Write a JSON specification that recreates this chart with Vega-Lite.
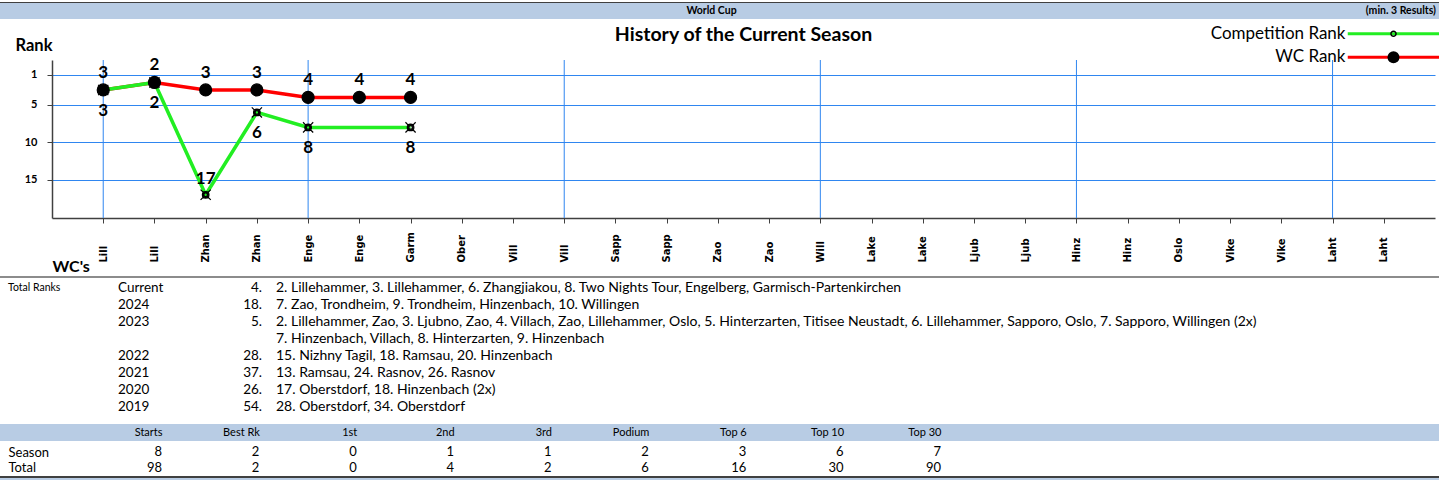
{
  "$schema": "https://vega.github.io/schema/vega-lite/v6.json",
  "background": "white",
  "padding": 0,
  "spacing": 0,
  "bounds": "flush",
  "resolve": {"scale": {"color": "independent", "shape": "independent"}, "legend": {"color": "independent", "shape": "independent"}},
  "config": {
    "view": {"stroke": null},
    "font": "Lato",
    "concat": {"spacing": 0},
    "text": {"font": "Lato", "color": "black"}
  },
  "datasets": {
    "events": [
      {"n": 1, "event": "01 Lill"}, {"n": 2, "event": "02 Lill"}, {"n": 3, "event": "03 Zhan"}, {"n": 4, "event": "04 Zhan"},
      {"n": 5, "event": "05 Enge"}, {"n": 6, "event": "06 Enge"}, {"n": 7, "event": "07 Garm"}, {"n": 8, "event": "08 Ober"},
      {"n": 9, "event": "09 Vill"}, {"n": 10, "event": "10 Vill"}, {"n": 11, "event": "11 Sapp"}, {"n": 12, "event": "12 Sapp"},
      {"n": 13, "event": "13 Zao"}, {"n": 14, "event": "14 Zao"}, {"n": 15, "event": "15 Will"}, {"n": 16, "event": "16 Lake"},
      {"n": 17, "event": "17 Lake"}, {"n": 18, "event": "18 Ljub"}, {"n": 19, "event": "19 Ljub"}, {"n": 20, "event": "20 Hinz"},
      {"n": 21, "event": "21 Hinz"}, {"n": 22, "event": "22 Oslo"}, {"n": 23, "event": "23 Vike"}, {"n": 24, "event": "24 Vike"},
      {"n": 25, "event": "25 Laht"}, {"n": 26, "event": "26 Laht"}
    ],
    "series": [
      {"event": "01 Lill", "series": "WC Rank", "rank": 3},
      {"event": "02 Lill", "series": "WC Rank", "rank": 2},
      {"event": "03 Zhan", "series": "WC Rank", "rank": 3},
      {"event": "04 Zhan", "series": "WC Rank", "rank": 3},
      {"event": "05 Enge", "series": "WC Rank", "rank": 4},
      {"event": "06 Enge", "series": "WC Rank", "rank": 4},
      {"event": "07 Garm", "series": "WC Rank", "rank": 4},
      {"event": "01 Lill", "series": "Competition Rank", "rank": 3},
      {"event": "02 Lill", "series": "Competition Rank", "rank": 2},
      {"event": "03 Zhan", "series": "Competition Rank", "rank": 17},
      {"event": "04 Zhan", "series": "Competition Rank", "rank": 6},
      {"event": "05 Enge", "series": "Competition Rank", "rank": 8},
      {"event": "07 Garm", "series": "Competition Rank", "rank": 8}
    ],
    "ranks": [
      {"row": 1, "section": "Total Ranks", "season": "Current", "total": "4.", "detail": "2. Lillehammer, 3. Lillehammer, 6. Zhangjiakou, 8. Two Nights Tour, Engelberg, Garmisch-Partenkirchen"},
      {"row": 2, "section": "", "season": "2024", "total": "18.", "detail": "7. Zao, Trondheim, 9. Trondheim, Hinzenbach, 10. Willingen"},
      {"row": 3, "section": "", "season": "2023", "total": "5.", "detail": "2. Lillehammer, Zao, 3. Ljubno, Zao, 4. Villach, Zao, Lillehammer, Oslo, 5. Hinterzarten, Titisee Neustadt, 6. Lillehammer, Sapporo, Oslo, 7. Sapporo, Willingen (2x)"},
      {"row": 4, "section": "", "season": "", "total": "", "detail": "7. Hinzenbach, Villach, 8. Hinterzarten, 9. Hinzenbach"},
      {"row": 5, "section": "", "season": "2022", "total": "28.", "detail": "15. Nizhny Tagil, 18. Ramsau, 20. Hinzenbach"},
      {"row": 6, "section": "", "season": "2021", "total": "37.", "detail": "13. Ramsau, 24. Rasnov, 26. Rasnov"},
      {"row": 7, "section": "", "season": "2020", "total": "26.", "detail": "17. Oberstdorf, 18. Hinzenbach (2x)"},
      {"row": 8, "section": "", "season": "2019", "total": "54.", "detail": "28. Oberstdorf, 34. Oberstdorf"}
    ],
    "stats": [
      {"row": "Season", "col": "Starts", "value": 8}, {"row": "Season", "col": "Best Rk", "value": 2},
      {"row": "Season", "col": "1st", "value": 0}, {"row": "Season", "col": "2nd", "value": 1},
      {"row": "Season", "col": "3rd", "value": 1}, {"row": "Season", "col": "Podium", "value": 2},
      {"row": "Season", "col": "Top 6", "value": 3}, {"row": "Season", "col": "Top 10", "value": 6},
      {"row": "Season", "col": "Top 30", "value": 7},
      {"row": "Total", "col": "Starts", "value": 98}, {"row": "Total", "col": "Best Rk", "value": 2},
      {"row": "Total", "col": "1st", "value": 0}, {"row": "Total", "col": "2nd", "value": 4},
      {"row": "Total", "col": "3rd", "value": 2}, {"row": "Total", "col": "Podium", "value": 6},
      {"row": "Total", "col": "Top 6", "value": 16}, {"row": "Total", "col": "Top 10", "value": 30},
      {"row": "Total", "col": "Top 30", "value": 90}
    ],
    "banner": [
      {"label": "World Cup", "place": "center"},
      {"label": "(min. 3 Results)", "place": "right"}
    ]
  },
  "vconcat": [
    {"width": 1439, "height": 2, "data": {"values": []}, "mark": {"type": "text", "text": ""}, "encoding": {}},
    {"width": 1439, "height": 1, "view": {"fill": "#404040"}, "data": {"values": []}, "mark": {"type": "text", "text": ""}, "encoding": {}},
    {
      "width": 1439, "height": 16, "view": {"fill": "#b8cce4"},
      "data": {"name": "banner"},
      "encoding": {
        "x": {"field": "place", "type": "nominal", "scale": {"type": "point", "domain": ["left", "center", "right"], "padding": 0}, "axis": null},
        "text": {"field": "label", "type": "nominal"}
      },
      "layer": [
        {"transform": [{"filter": "datum.place == 'center'"}], "mark": {"type": "text", "fontWeight": "bold", "fontSize": 10.5, "align": "center", "dx": -8}},
        {"transform": [{"filter": "datum.place == 'right'"}], "mark": {"type": "text", "fontWeight": "bold", "fontSize": 10.5, "align": "right", "dx": -3}}
      ]
    },
    {
      "width": 1439, "height": 41,
      "data": {"values": [{"title": "History of the Current Season"}]},
      "mark": {"type": "text", "fontSize": 19.5, "fontWeight": "bold", "baseline": "alphabetic", "dx": 24, "dy": 1.5},
      "encoding": {"text": {"field": "title", "type": "nominal"}}
    },
    {
      "width": 1439,
      "height": 158,
      "encoding": {
        "x": {
          "field": "event", "type": "ordinal",
          "scale": {"type": "point", "range": [52, 1435], "padding": 1, "align": 0.5},
          "axis": {
            "title": "WC's", "titleAnchor": "start", "titleAlign": "left", "titleBaseline": "alphabetic",
            "titleX": 52, "titleY": 53, "titleFontSize": 16, "titleFontWeight": "bold", "titleFont": "Lato", "titleColor": "black",
            "labelExpr": "slice(datum.label, 3)", "labelAngle": 270, "labelAlign": "left", "labelBaseline": "middle",
            "labelPadding": 39, "labelFont": "DejaVu Sans", "labelFontSize": 10, "labelFontWeight": "bold", "labelColor": "black",
            "labelOverlap": false, "labelBound": false,
            "tickSize": 5, "tickColor": "#404040", "tickWidth": 1,
            "domainColor": "#404040", "domainWidth": 1.5, "grid": false
          }
        }
      },
      "layer": [
        {
          "data": {"name": "events"},
          "mark": {"type": "rule", "color": "#2f86f0", "strokeWidth": 1},
          "encoding": {
            "strokeOpacity": {"condition": {"test": "datum.n == 1 || datum.n % 5 == 0", "value": 1}, "value": 0}
          }
        },
        {
          "data": {"name": "series"},
          "transform": [{"filter": "datum.series == 'WC Rank'"}],
          "mark": {"type": "line", "strokeWidth": 3.5},
          "encoding": {
            "y": {
              "field": "rank", "type": "quantitative",
              "scale": {"domain": [-1, 20.1], "reverse": true, "nice": false, "zero": false},
              "axis": {
                "offset": -52,
                "title": "Rank", "titleAngle": 0, "titleAlign": "left", "titleBaseline": "alphabetic",
                "titleX": -37, "titleY": -10, "titleFontSize": 16.5, "titleFontWeight": "bold", "titleFont": "Lato", "titleColor": "black",
                "values": [1, 5, 10, 15], "grid": true, "gridColor": "#2f86f0", "gridWidth": 1,
                "labelFont": "Lato", "labelFontSize": 11, "labelFontWeight": "bold", "labelPadding": 10, "labelColor": "black", "labelFlush": false,
                "tickSize": 5, "tickColor": "#404040", "domainColor": "#404040", "domainWidth": 1.5
              }
            },
            "color": {
              "field": "series", "type": "nominal",
              "scale": {"range": ["#22ee22", "#ff0000"]},
              "legend": {
                "orient": "none", "legendX": 1385.25, "legendY": -34.75, "title": null, "direction": "vertical",
                "symbolType": "M-8,0H8", "symbolSize": 132.25, "symbolStrokeWidth": 3, "rowPadding": 5.5,
                "labelAlign": "right", "labelOffset": -56.75, "labelFontSize": 17, "labelFont": "Lato", "labelColor": "black",
                "labelLimit": 300, "padding": 0, "offset": 0, "symbolOffset": 0
              }
            }
          }
        },
        {
          "data": {"name": "series"},
          "transform": [{"filter": "datum.series == 'Competition Rank'"}],
          "mark": {"type": "line", "strokeWidth": 3.5},
          "encoding": {
            "y": {"field": "rank", "type": "quantitative", "scale": {"domain": [-1, 20.1], "reverse": true, "nice": false, "zero": false}},
            "color": {"field": "series", "type": "nominal", "scale": {"range": ["#22ee22", "#ff0000"]}}
          }
        },
        {
          "data": {"name": "series"},
          "mark": {"type": "point", "filled": true, "color": "black", "stroke": "black", "strokeWidth": 1.2, "size": 144, "opacity": 1},
          "encoding": {
            "y": {"field": "rank", "type": "quantitative", "scale": {"domain": [-1, 20.1], "reverse": true, "nice": false, "zero": false}},
            "shape": {
              "field": "series", "type": "nominal",
              "scale": {"domain": ["Competition Rank", "WC Rank"], "range": ["M0.55,0A0.55,0.55,0,1,1,-0.55,0A0.55,0.55,0,1,1,0.55,0ZM0.3,0A0.3,0.3,0,1,0,-0.3,0A0.3,0.3,0,1,0,0.3,0ZM0.39,0.39L0.85,0.85M-0.39,0.39L-0.85,0.85M0.39,-0.39L0.85,-0.85M-0.39,-0.39L-0.85,-0.85", "circle"]},
              "legend": {
                "orient": "none", "legendX": 1385, "legendY": -34.75, "title": null, "direction": "vertical",
                "symbolSize": 144, "symbolFillColor": "black", "symbolStrokeColor": "black", "symbolStrokeWidth": 1.2, "rowPadding": 5.5,
                "labelExpr": "''", "labelFontSize": 17, "padding": 0, "offset": 0, "symbolOffset": 0
              }
            }
          }
        },
        {
          "data": {"name": "series"},
          "transform": [{"filter": "datum.series == 'WC Rank'"}],
          "mark": {"type": "text", "fontWeight": "bold", "fontSize": 17, "dy": -17},
          "encoding": {
            "y": {"field": "rank", "type": "quantitative", "scale": {"domain": [-1, 20.1], "reverse": true, "nice": false, "zero": false}},
            "text": {"field": "rank", "type": "quantitative"}
          }
        },
        {
          "data": {"name": "series"},
          "transform": [{"filter": "datum.series == 'Competition Rank' && datum.rank < 15"}],
          "mark": {"type": "text", "fontWeight": "bold", "fontSize": 17, "dy": 21},
          "encoding": {
            "y": {"field": "rank", "type": "quantitative", "scale": {"domain": [-1, 20.1], "reverse": true, "nice": false, "zero": false}},
            "text": {"field": "rank", "type": "quantitative"}
          }
        },
        {
          "data": {"name": "series"},
          "transform": [{"filter": "datum.series == 'Competition Rank' && datum.rank >= 15"}],
          "mark": {"type": "text", "fontWeight": "bold", "fontSize": 17, "dy": -16},
          "encoding": {
            "y": {"field": "rank", "type": "quantitative", "scale": {"domain": [-1, 20.1], "reverse": true, "nice": false, "zero": false}},
            "text": {"field": "rank", "type": "quantitative"}
          }
        }
      ]
    },
    {"width": 1439, "height": 58, "data": {"values": []}, "mark": {"type": "text", "text": ""}, "encoding": {}},
    {"width": 1439, "height": 2, "view": {"fill": "#8c8c8c"}, "data": {"values": []}, "mark": {"type": "text", "text": ""}, "encoding": {}},
    {
      "width": 1439, "height": 146,
      "data": {"name": "ranks"},
      "encoding": {
        "y": {"field": "row", "type": "ordinal", "scale": {"type": "point", "padding": 0.794, "align": 0.37}, "axis": null}
      },
      "resolve": {"scale": {"x": "independent"}},
      "layer": [
        {
          "mark": {"type": "text", "align": "left", "fontSize": 10.5},
          "encoding": {
            "x": {"datum": "c", "type": "nominal", "scale": {"type": "point", "padding": 0, "align": 0.00556}, "axis": null},
            "text": {"field": "section", "type": "nominal"}
          }
        },
        {
          "mark": {"type": "text", "align": "left", "fontSize": 13.5},
          "encoding": {
            "x": {"datum": "c", "type": "nominal", "scale": {"type": "point", "padding": 0, "align": 0.082}, "axis": null},
            "text": {"field": "season", "type": "nominal"}
          }
        },
        {
          "mark": {"type": "text", "align": "right", "fontSize": 13.5},
          "encoding": {
            "x": {"datum": "c", "type": "nominal", "scale": {"type": "point", "padding": 0, "align": 0.1821}, "axis": null},
            "text": {"field": "total", "type": "nominal"}
          }
        },
        {
          "mark": {"type": "text", "align": "left", "fontSize": 14},
          "encoding": {
            "x": {"datum": "c", "type": "nominal", "scale": {"type": "point", "padding": 0, "align": 0.1918}, "axis": null},
            "text": {"field": "detail", "type": "nominal"}
          }
        }
      ]
    },
    {"width": 1439, "height": 17, "view": {"fill": "#b8cce4"}, "data": {"values": []}, "mark": {"type": "text", "text": ""}, "encoding": {}},
    {
      "width": 1439, "height": 35, "data": {"name": "stats"},
      "mark": {"type": "text", "align": "right", "fontSize": 13},
      "encoding": {
        "x": {
          "field": "col", "type": "ordinal", "sort": null,
          "scale": {"type": "point", "range": [162, 941], "padding": 0},
          "axis": {"orient": "top", "title": null, "domain": false, "ticks": false, "tickSize": 0, "labelAlign": "right", "labelBaseline": "middle",
                   "labelPadding": 9, "labelFontSize": 11, "labelFont": "Lato", "labelAngle": 0, "labelColor": "black", "labelOverlap": false, "grid": false}
        },
        "y": {
          "field": "row", "type": "ordinal", "sort": null,
          "scale": {"type": "point", "padding": 0.594, "align": 0.579},
          "axis": {"orient": "left", "title": null, "domain": false, "ticks": false, "tickSize": 0, "labelAlign": "left", "labelBaseline": "middle",
                   "labelPadding": -8, "labelFontSize": 13, "labelFont": "Lato", "labelColor": "black", "grid": false}
        },
        "text": {"field": "value", "type": "quantitative"}
      }
    },
    {"width": 1439, "height": 2, "view": {"fill": "#404040"}, "data": {"values": []}, "mark": {"type": "text", "text": ""}, "encoding": {}},
    {"width": 1439, "height": 2, "view": {"fill": "#b8cce4"}, "data": {"values": []}, "mark": {"type": "text", "text": ""}, "encoding": {}}
  ]
}
